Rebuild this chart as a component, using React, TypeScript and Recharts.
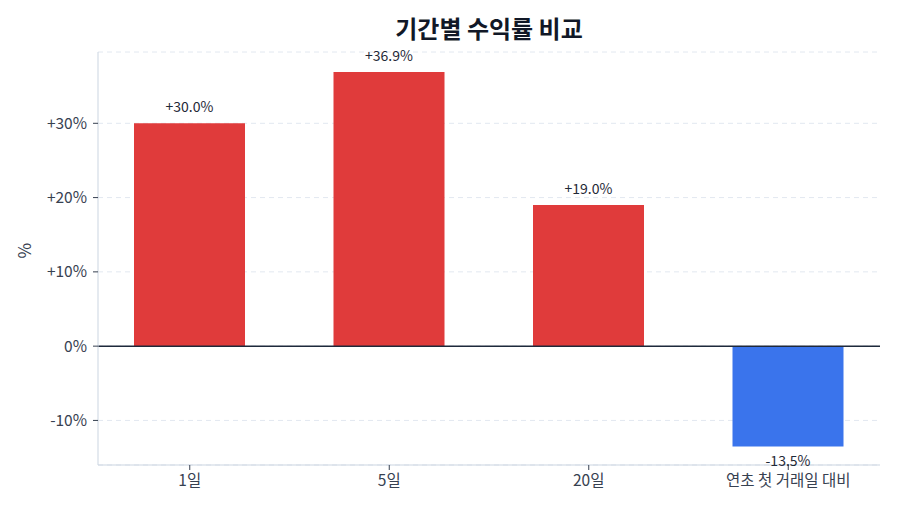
import { BarChart, Bar, XAxis, YAxis, CartesianGrid, ReferenceLine, LabelList, Cell } from "recharts";

const periods = ["1일", "5일", "20일", "연초 첫 거래일 대비"];
const returns = [30.0, 36.9, 19.0, -13.5];
const yTicks = [-10, 0, 10, 20, 30];

const FONT = "'Noto Sans CJK KR', 'Noto Sans', sans-serif";
const UP = "#e03b3b";
const DOWN = "#3a74ec";

const data = periods.map((period, i) => ({ period, value: returns[i] }));

const fmtTick = (v: number) => (v > 0 ? `+${v}%` : `${v}%`);
const fmtLabel = (v: number) => (v > 0 ? `+${v.toFixed(1)}%` : `${v.toFixed(1)}%`);

function ValueLabel(props: any) {
  const { x, y, width, height, value } = props;
  const neg = value < 0;
  const cx = x + width / 2;
  const top = Math.min(y, y + height);
  const bottom = Math.max(y, y + height);
  const ty = neg ? bottom + 20 : top - 11;
  return (
    <text x={cx} y={ty} textAnchor="middle" fill="#1f2937" fontSize={14} fontFamily={FONT}>
      {fmtLabel(value)}
    </text>
  );
}

export default function App() {
  return (
    <div style={{ position: "fixed", left: 0, top: 0, width: 900, height: 514, background: "#fff", fontFamily: FONT }}>
      <div
        style={{
          position: "absolute",
          left: 98,
          width: 782,
          top: 11,
          textAlign: "center",
          fontSize: 24,
          fontWeight: 700,
          color: "#111827",
          lineHeight: "34px",
        }}
      >
        기간별 수익률 비교
      </div>
      <BarChart width={900} height={514} data={data} margin={{ top: 52, right: 20, bottom: 0, left: 0 }} barCategoryGap={0}>
        <CartesianGrid vertical={false} stroke="#e2e8f0" strokeDasharray="5 4" />
        <XAxis
          dataKey="period"
          height={49}
          padding={{ left: -8, right: -8 }}
          tick={{ fill: "#374151", fontSize: 15.5, fontFamily: FONT }}
          tickLine={{ stroke: "#374151" }}
          tickSize={5}
          axisLine={{ stroke: "#cbd5e1" }}
          tickMargin={5}
        />
        <YAxis
          width={98}
          domain={[-16, 39.6]}
          ticks={yTicks}
          allowDataOverflow
          tickFormatter={fmtTick}
          tick={{ fill: "#374151", fontSize: 15.5, fontFamily: FONT }}
          tickLine={{ stroke: "#374151" }}
          tickSize={5}
          tickMargin={6}
          axisLine={{ stroke: "#cbd5e1" }}
          label={{ value: "%", angle: -90, position: "insideLeft", offset: 25, fill: "#374151", fontSize: 17, fontFamily: FONT }}
        />
        <ReferenceLine y={0} stroke="#1e293b" strokeWidth={1.5} />
        <Bar dataKey="value" barSize={111} isAnimationActive={false}>
          {data.map((d) => (
            <Cell key={d.period} fill={d.value >= 0 ? UP : DOWN} />
          ))}
          <LabelList dataKey="value" content={ValueLabel} />
        </Bar>
      </BarChart>
    </div>
  );
}
